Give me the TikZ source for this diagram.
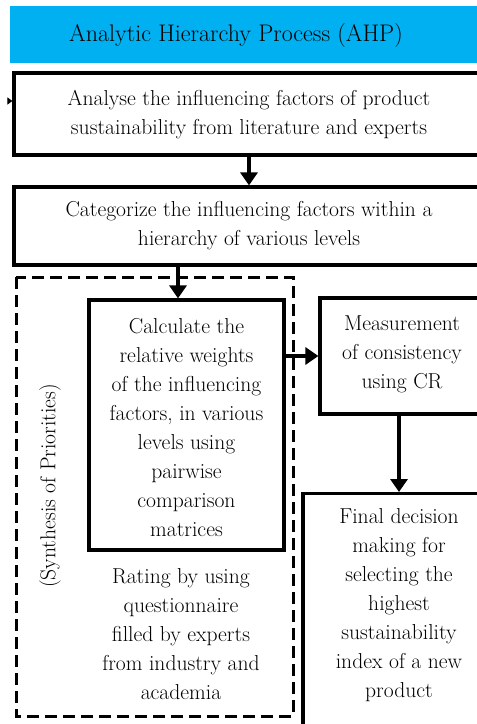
\documentclass[tikz,border=0pt]{standalone}
\usepackage{tikz}
\usetikzlibrary{arrows.meta}
\definecolor{ahpblue}{RGB}{0,176,240}
\tikzset{
    box/.style={draw, line width=3.2pt, inner sep=0pt},
    txt/.style={align=center, font=\fontsize{21.6}{29}\selectfont, inner sep=0pt},
    arr/.style={line width=3.2pt, -{Triangle[width=17pt,length=13pt]}},
}
\begin{document}
\begin{tikzpicture}[x=1pt, y=-1pt]
            \useasboundingbox (0,0) rectangle (477,724);
            \clip (0,0) rectangle (477,724);
            %
            \fill[ahpblue] (10,6) rectangle (490,63);
            \node[txt, font=\fontsize{24}{29}\selectfont] (title) at (236,36) {Analytic Hierarchy Process (AHP)};
            %
            \node[box, minimum width=470, minimum height=82] (analyse) at (249,114) {};
            \node[txt] (analysetxt) at (249,115) {Analyse the influencing factors of product\\sustainability from literature and experts};

            \node[box, minimum width=470, minimum height=78] (categ) at (249,226) {};
            \node[txt] (categtxt) at (249,226) {Categorize the influencing factors within a\\hierarchy of various levels};
            %
            \draw[line width=3pt, dash pattern=on 12pt off 6pt] (16,277) rectangle (293,716);
            \node[txt, rotate=90] (synth) at (50,486) {(Synthesis of Priorities)};
            %
            \node[box, minimum width=195, minimum height=250] (calc) at (186.5,425) {};
            \node[txt] (calctxt) at (186.5,428) {Calculate the\\relative weights\\of the influencing\\factors, in various\\levels using\\pairwise\\comparison\\matrices};

            \node[txt] (rating) at (181,634) {Rating by using\\questionnaire\\filled by experts\\from industry and\\academia};
            %
            \node[box, minimum width=164, minimum height=116] (measure) at (402,356) {};
            \node[txt] (measuretxt) at (402,354) {Measurement\\of consistency\\using CR};

            \node[box, minimum width=192, minimum height=260, anchor=north] (final) at (399,492) {};
            \node[txt] (finaltxt) at (399,605) {Final decision\\making for\\selecting the\\highest\\sustainability\\index of a new\\product};
            %
            \coordinate (drop) at (178,0);
            \coordinate (stub) at (8,101);
            %
            \draw[arr] (analyse.south) -- (categ.north);
            \draw[arr] (categ.south -| drop) -- (calc.north -| drop);
            \draw[arr] (calc.east |- measure.west) -- (measure.west);
            \draw[arr] (final.north |- measure.south) -- (final.north);
            \draw[line width=1pt, -{Triangle[width=7pt,length=5pt]}] (stub) -- (analyse.west |- stub);
        \end{tikzpicture}
\end{document}
